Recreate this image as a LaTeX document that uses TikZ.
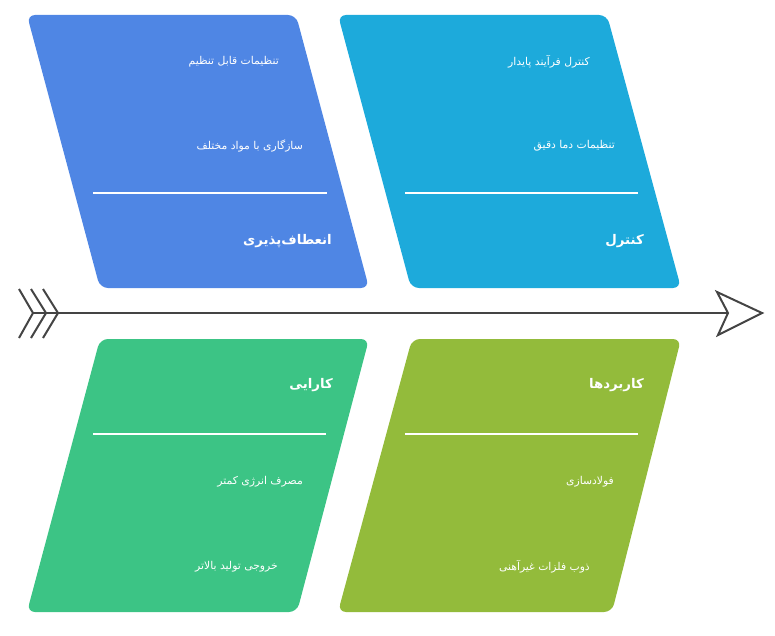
\documentclass[tikz,border=0pt]{standalone}
\usepackage{fontspec}
\newfontfamily\arabicfont[Script=Arabic]{DejaVu Sans}
\TeXXeTstate=1
\definecolor{cblue}{HTML}{4F86E4}
\definecolor{ccyan}{HTML}{1DAADB}
\definecolor{cgreen}{HTML}{3CC485}
\definecolor{colive}{HTML}{93BB3B}
\definecolor{cline}{HTML}{444444}
\begin{document}
\begin{tikzpicture}[x=1pt,y=-1pt,
  item/.style={anchor=east,text=white,font=\arabicfont\fontsize{10.8}{12}\selectfont,inner sep=0pt},
  ttl/.style={anchor=east,text=white,font=\arabicfont\bfseries\fontsize{13.3}{15}\selectfont,inner sep=0pt},
  card/.style={rounded corners=8pt},
  sepline/.style={draw=white,line width=1.2pt},
  spine/.style={draw=cline,line width=2.2pt},
  chev/.style={draw=cline,line width=2pt}]
\useasboundingbox (0,0) rectangle (775,636);
% cards
\fill[card,fill=cblue] (27,15) -- (296,15) -- (369,288) -- (100,288) -- cycle;
\fill[card,fill=ccyan] (338,15) -- (607,15) -- (681,288) -- (411,288) -- cycle;
\fill[card,fill=cgreen] (100,339) -- (369,339) -- (297,612) -- (27,612) -- cycle;
\fill[card,fill=colive] (412,339) -- (681,339) -- (612,612) -- (338,612) -- cycle;
% separators
\coordinate (s1a) at (93,193); \coordinate (s1b) at (327,193);
\coordinate (s2a) at (405,193); \coordinate (s2b) at (638,193);
\coordinate (s3a) at (93,434); \coordinate (s3b) at (326,434);
\coordinate (s4a) at (405,434); \coordinate (s4b) at (638,434);
\draw[sepline] (s1a) -- (s1b);
\draw[sepline] (s2a) -- (s2b);
\draw[sepline] (s3a) -- (s3b);
\draw[sepline] (s4a) -- (s4b);
% texts top-left
\node[item] (a1) at (279,62) {\beginR تنظیمات قابل تنظیم\endR};
\node[item] (a2) at (303,146) {\beginR سازگاری با مواد مختلف\endR};
\node[ttl] (at) at (332,241) {\beginR انعطاف‌پذیری\endR};
% top-right
\node[item] (b1) at (590,62) {\beginR کنترل فرآیند پایدار\endR};
\node[item] (b2) at (615,146) {\beginR تنظیمات دما دقیق\endR};
\node[ttl] (bt) at (644,241) {\beginR کنترل\endR};
% bottom-left
\node[ttl] (ct) at (333,385) {\beginR کارایی\endR};
\node[item] (c1) at (303,482) {\beginR مصرف انرژی کمتر\endR};
\node[item] (c2) at (278,567) {\beginR خروجی تولید بالاتر\endR};
% bottom-right
\node[ttl] (dt) at (644,385) {\beginR کاربردها\endR};
\node[item] (d1) at (614,482) {\beginR فولادسازی\endR};
\node[item] (d2) at (590,567) {\beginR ذوب فلزات غیرآهنی\endR};
% spine
\coordinate (tail) at (33,313);
\coordinate (notch) at (728,313);
\coordinate (hup) at (717,292);
\coordinate (tip) at (762,313);
\coordinate (hdn) at (718,335);
\draw[spine] (tail) -- (notch);
\draw[chev,line join=miter] (hup) -- (tip) -- (hdn) -- (notch) -- cycle;
\coordinate (c1u) at (19,289); \coordinate (c1m) at (33,313); \coordinate (c1d) at (19,338);
\coordinate (c2u) at (31,289); \coordinate (c2m) at (46,313); \coordinate (c2d) at (31,338);
\coordinate (c3u) at (43,289); \coordinate (c3m) at (58,313); \coordinate (c3d) at (43,338);
\draw[chev] (c1u) -- (c1m) -- (c1d);
\draw[chev] (c2u) -- (c2m) -- (c2d);
\draw[chev] (c3u) -- (c3m) -- (c3d);
\end{tikzpicture}
\end{document}
